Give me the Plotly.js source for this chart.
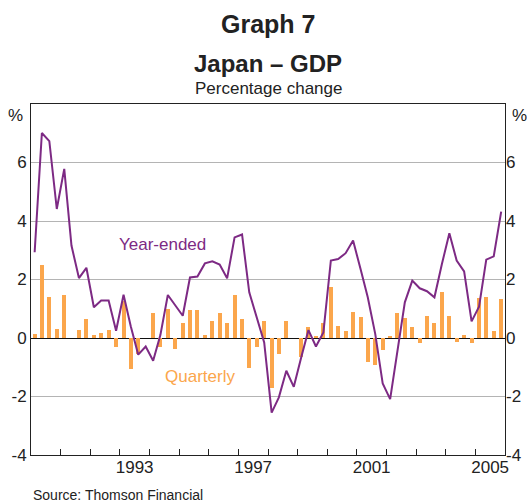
<!DOCTYPE html>
<html>
<head>
<meta charset="utf-8">
<script src="https://cdn.plot.ly/plotly-3.0.1.min.js"></script>
<style>html,body{margin:0;padding:0;background:#fff;}#chart{width:527px;height:504px;}</style>
</head>
<body>
<div id="chart"></div>
<script>
// Quarters 1990 Q1 .. 2005 Q4
const startYear = 1990;
const quarters = [];
for (let y = startYear; y <= 2005; y++) for (let q = 1; q <= 4; q++) quarters.push(y + '-Q' + q);

const yearEnded = [2.93,7.01,6.73,4.41,5.78,3.16,2.05,2.40,1.05,1.28,1.28,0.25,1.48,0.40,-0.57,-0.29,
  -0.78,0.10,1.47,1.11,0.76,2.07,2.10,2.55,2.62,2.51,2.04,3.44,3.54,1.56,0.70,-0.15,
  -2.55,-2.03,-1.12,-1.67,-0.66,0.27,-0.29,0.19,2.65,2.70,2.90,3.33,2.36,1.39,0.14,-1.55,
  -2.09,-0.49,1.22,1.96,1.70,1.60,1.39,2.53,3.58,2.65,2.28,0.57,1.07,2.68,2.79,4.32];

const quarterly = [0.14,2.51,1.41,0.32,1.48,0.0,0.28,0.66,0.11,0.18,0.28,-0.32,1.25,-1.06,-0.55,0.0,
  0.84,-0.32,1.00,-0.36,0.50,0.97,0.97,0.11,0.57,0.87,0.52,1.48,0.66,-1.04,-0.32,0.57,
  -1.71,-0.53,0.59,0.0,-0.66,0.37,0.06,0.50,1.76,0.42,0.25,0.90,0.71,-0.83,-0.92,-0.41,
  0.08,0.87,0.67,0.36,-0.17,0.76,0.50,1.56,0.76,-0.14,0.11,-0.17,1.36,1.41,0.23,1.32];

const yTickVals = [-4,-2,0,2,4,6];
const yTickText = ['-4','-2','0','2','4','6'];
const xLabelYears = [1993,1997,2001,2005];
const yearBoundaries = [];
for (let y = 1990; y <= 2006; y++) yearBoundaries.push(y + '-01-01');

// mid-quarter dates
const midMonth = ['02-15','05-15','08-15','11-15'];
const xDates = quarters.map(s => { const [y,q] = s.split('-Q'); return y + '-' + midMonth[+q-1]; });

const FONT = 'Liberation Sans, Arial, sans-serif';
const PURPLE = '#7D2A84';
const ORANGE = '#FBA64C';
const RANGE_X = ['1990-01-01','2006-01-01'];

const traces = [
  {type:'bar', x:xDates, y:quarterly, marker:{color:ORANGE}, width:49*86400000, hoverinfo:'skip', showlegend:false},
  {type:'scatter', mode:'lines', x:xDates, y:yearEnded, line:{color:PURPLE, width:2}, hoverinfo:'skip', showlegend:false},
  {type:'scatter', mode:'lines', x:xDates, y:yearEnded, xaxis:'x2', yaxis:'y2', line:{width:0}, opacity:0, hoverinfo:'skip', showlegend:false}
];

const layout = {
  width:527, height:504,
  margin:{l:31, r:22, t:104, b:49},
  paper_bgcolor:'#fff', plot_bgcolor:'#fff',
  font:{family:FONT, size:17, color:'#222'},
  bargap:0,
  xaxis:{
    type:'date', range:RANGE_X,
    tickvals: yearBoundaries, ticktext: yearBoundaries.map(() => ''),
    ticks:'inside', ticklen:6, tickcolor:'#222', tickwidth:1,
    showgrid:false, zeroline:false,
    showline:true, linecolor:'#222', linewidth:1, mirror:true,
    fixedrange:true
  },
  xaxis2:{
    type:'date', range:RANGE_X, overlaying:'x', side:'bottom',
    tickvals: xLabelYears.map(y => y + '-07-02'),
    ticktext: xLabelYears.map(String),
    ticks:'', showgrid:false, zeroline:false, showline:false,
    tickfont:{size:17, family:FONT, color:'#222'},
    fixedrange:true
  },
  yaxis:{
    range:[-4,8], tickvals:yTickVals, ticktext:yTickText,
    showgrid:true, gridcolor:'#b4b4b4', gridwidth:1,
    zeroline:true, zerolinecolor:'#111', zerolinewidth:1,
    showline:true, linecolor:'#222', linewidth:1, mirror:true,
    ticks:'', tickfont:{size:17, family:FONT, color:'#222'},
    fixedrange:true
  },
  yaxis2:{
    range:[-4,8], tickvals:yTickVals, ticktext:yTickText,
    overlaying:'y', side:'right', showgrid:false, zeroline:false,
    ticks:'', tickfont:{size:17, family:FONT, color:'#222'},
    fixedrange:true
  },
  annotations:[
    {text:'<b>Graph 7</b>', xref:'paper', yref:'paper', x:0.5, y:1.228, xanchor:'center', yanchor:'middle', showarrow:false, font:{size:25, family:FONT, color:'#222'}},
    {text:'<b>Japan – GDP</b>', xref:'paper', yref:'paper', x:0.5, y:1.114, xanchor:'center', yanchor:'middle', showarrow:false, font:{size:24, family:FONT, color:'#222'}},
    {text:'Percentage change', xref:'paper', yref:'paper', x:0.5, y:1.043, xanchor:'center', yanchor:'middle', showarrow:false, font:{size:17, family:FONT, color:'#222'}},
    {text:'%', xref:'paper', yref:'paper', x:0, y:1, xanchor:'right', yanchor:'top', xshift:-6, showarrow:false, font:{size:17, family:FONT, color:'#222'}},
    {text:'%', xref:'paper', yref:'paper', x:1, y:1, xanchor:'left', yanchor:'top', xshift:5, showarrow:false, font:{size:17, family:FONT, color:'#222'}},
    {text:'Year-ended', xref:'x', yref:'y', x:'1992-11-25', y:3.2, xanchor:'left', yanchor:'middle', showarrow:false, font:{size:17, family:FONT, color:PURPLE}},
    {text:'Quarterly', xref:'x', yref:'y', x:'1994-06-20', y:-1.32, xanchor:'left', yanchor:'middle', showarrow:false, font:{size:17, family:FONT, color:ORANGE}},
    {text:'Source: Thomson Financial', xref:'paper', yref:'paper', x:0, y:-0.114, xanchor:'left', yanchor:'middle', showarrow:false, font:{size:14, family:FONT, color:'#222'}}
  ]
};

Plotly.newPlot('chart', traces, layout, {staticPlot:true, displayModeBar:false});
</script>
</body>
</html>
